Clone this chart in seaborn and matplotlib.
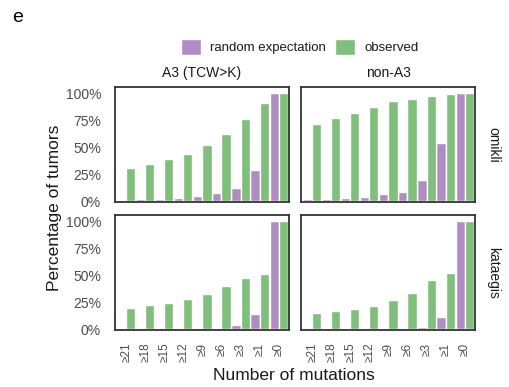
import numpy as np
import pandas as pd
import matplotlib
matplotlib.use("Agg")
import matplotlib.pyplot as plt
import seaborn as sns

# Thresholds on the number of mutations per tumour
thresholds = ["≥21", "≥18", "≥15", "≥12", "≥9", "≥6", "≥3", "≥1", "≥0"]
contexts = ["A3 (TCW>K)", "non-A3"]
events = ["omikli", "kataegis"]
kinds = ["random expectation", "observed"]

# Percentage of tumours with at least N mutations
omikli_a3_random = [1.2, 2, 2, 3, 5, 7.7, 12, 29, 100]
omikli_a3_observed = [31, 34.5, 39, 44, 52, 62, 76, 91, 100]
omikli_nona3_random = [2, 2, 3, 4, 7, 8.6, 20, 54, 100]
omikli_nona3_observed = [71.6, 77, 82, 87, 93, 95, 97.5, 99.4, 100]
kataegis_a3_random = [0, 0, 0, 0, 0.3, 0.3, 4, 14, 100]
kataegis_a3_observed = [19.8, 22.5, 24.4, 28, 32.7, 40, 47.5, 51, 100]
kataegis_nona3_random = [0, 0, 0, 0, 0, 0, 2, 11.5, 100]
kataegis_nona3_observed = [15, 17, 19, 21.6, 27, 33.6, 45.7, 52, 100]

series = {
    ("omikli", "A3 (TCW>K)"): (omikli_a3_random, omikli_a3_observed),
    ("omikli", "non-A3"): (omikli_nona3_random, omikli_nona3_observed),
    ("kataegis", "A3 (TCW>K)"): (kataegis_a3_random, kataegis_a3_observed),
    ("kataegis", "non-A3"): (kataegis_nona3_random, kataegis_nona3_observed),
}

rows = []
for (ev, ctx), (rnd, obs) in series.items():
    for kind, vals in zip(kinds, (rnd, obs)):
        for t, v in zip(thresholds, vals):
            rows.append({"event": ev, "context": ctx, "kind": kind,
                         "threshold": t, "pct": v})
df = pd.DataFrame(rows)

sns.set_theme(style="white")
plt.rcParams["font.family"] = ["Liberation Sans", "DejaVu Sans"]

palette = {"random expectation": "#AF8DC3", "observed": "#7FBF7B"}
text_col = "#1a1a1a"
tick_col = "#4d4d4d"

fig = plt.figure(figsize=(5.1, 3.87), dpi=100)
W, H = 510, 387
lefts = [115, 301]
tops = [87, 215]
pw, ph = 174, 115

axes = {}
for r, ev in enumerate(events):
    for c, ctx in enumerate(contexts):
        ax = fig.add_axes([lefts[c] / W, 1 - (tops[r] + ph) / H, pw / W, ph / H])
        sub = df[(df.event == ev) & (df.context == ctx)]
        sns.barplot(data=sub, x="threshold", y="pct", hue="kind",
                    order=thresholds, hue_order=kinds, palette=palette,
                    width=0.95, gap=0, saturation=1, errorbar=None,
                    legend=(r == 0 and c == 0), ax=ax)
        ax.set_xlim(-0.6, 8.55)
        ax.set_ylim(-0.5, 105.8)
        ax.set_yticks([0, 25, 50, 75, 100])
        ax.set_xlabel("")
        ax.set_ylabel("")
        for s in ax.spines.values():
            s.set_color("#333333")
            s.set_linewidth(1.3)
        ax.tick_params(axis="y", length=0, labelcolor=tick_col,
                       labelsize=10, pad=10)
        ax.tick_params(axis="x", length=0, labelcolor=tick_col,
                       labelsize=8.5, pad=9)
        if c == 0:
            ax.set_yticklabels(["0%", "25%", "50%", "75%", "100%"])
        else:
            ax.set_yticklabels([])
        if r == 0:
            ax.set_xticklabels([])
            ax.set_title(ctx, fontsize=10, color=text_col, pad=7)
        else:
            ax.set_xticks(range(len(thresholds)))
            ax.set_xticklabels(thresholds, rotation=90)
        if c == 1:
            ax.text(1.065, 0.5, ev, transform=ax.transAxes, rotation=-90,
                    ha="left", va="center", fontsize=10, color=text_col)
        axes[(r, c)] = ax

handles, labels = axes[(0, 0)].get_legend_handles_labels()
axes[(0, 0)].get_legend().remove()
fig.legend(handles, labels, loc="center", bbox_to_anchor=(300 / W, 1 - 47 / H),
           ncol=2, frameon=False, fontsize=9.5, handlelength=1.5,
           handleheight=1.5, handletextpad=0.7, columnspacing=0.7,
           labelcolor=text_col)

fig.text(294 / W, 1 - 376 / H, "Number of mutations", ha="center", va="center",
         fontsize=12.5, color=text_col)
fig.text(55 / W, 1 - 208 / H, "Percentage of tumors", ha="center", va="center",
         rotation=90, fontsize=12.5, color=text_col)
fig.text(12 / W, 1 - 18 / H, "e", ha="left", va="center", fontsize=14,
         color="black")

fig.savefig("out.png", dpi=100, facecolor="white")
